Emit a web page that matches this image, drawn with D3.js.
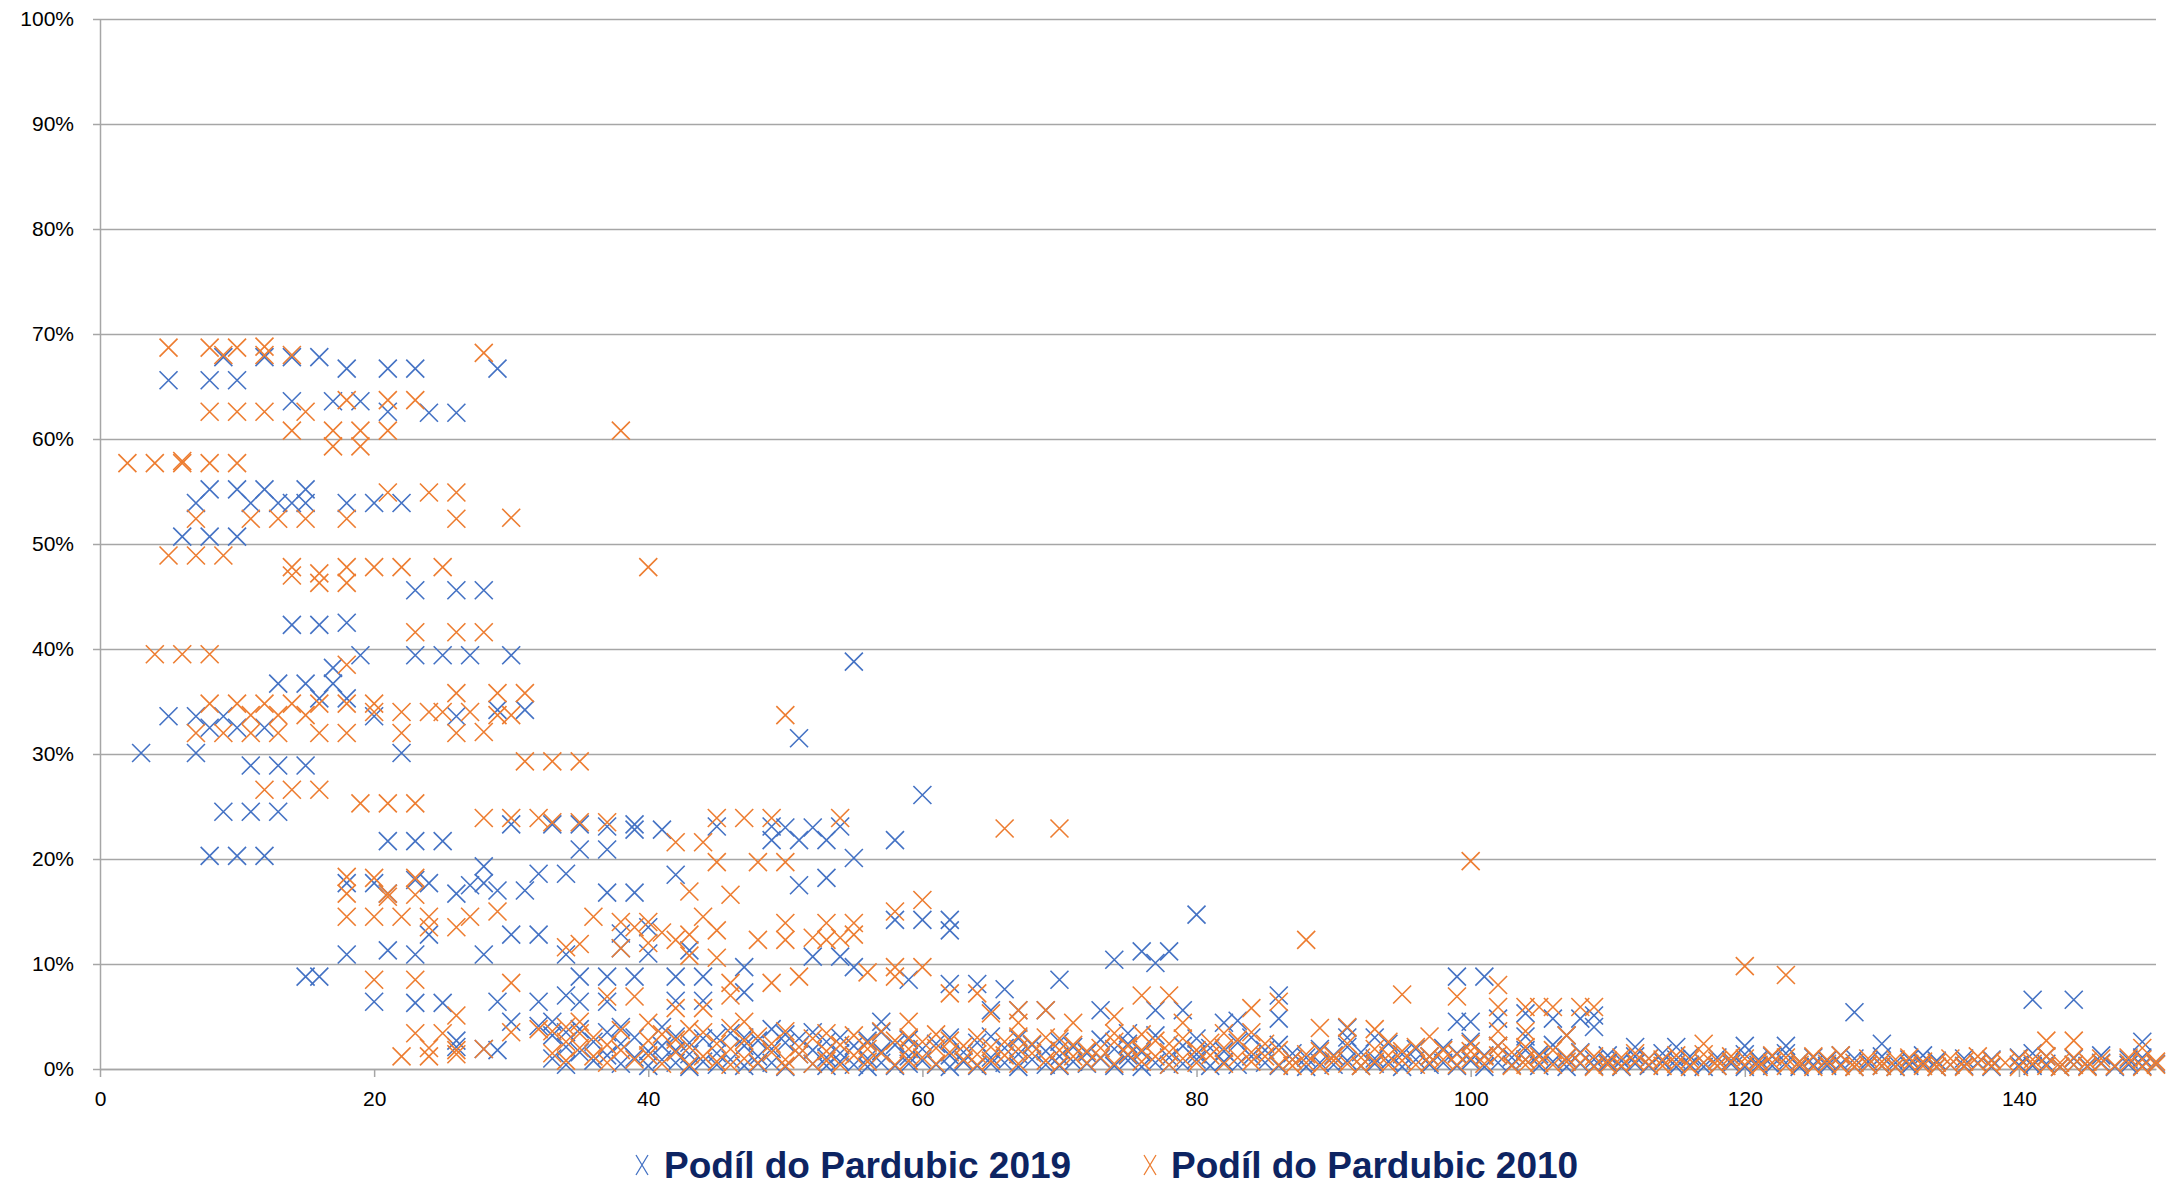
<!DOCTYPE html>
<html>
<head>
<meta charset="utf-8">
<script src="https://cdn.jsdelivr.net/npm/d3@7"></script>
<style>
body { margin: 0; background: #fff; }
</style>
</head>
<body>
<div id="chart"></div>
<script>
// series names
let seriesNames = ['Podíl do Pardubic 2019', 'Podíl do Pardubic 2010'];
let seriesColors = ['#4472C4', '#ED7D31'];

// tick values
let xTickValues = [0, 20, 40, 60, 80, 100, 120, 140];
let yTickValues = [0, 0.1, 0.2, 0.3, 0.4, 0.5, 0.6, 0.7, 0.8, 0.9, 1];

// 2019 - scattered points above the bottom band, [x, share %]
let upper2019 = [
    [3,30.1],[5,65.6],[5,33.6],[6,50.7],[7,53.9],[7,33.6],[7,30.1],
    [8,65.6],[8,55.2],[8,50.7],[8,32.5],[8,20.3],[9,67.8],[9,33.6],[9,24.5],
    [10,65.6],[10,55.2],[10,50.7],[10,32.5],[10,20.3],[11,53.9],[11,28.9],[11,24.5],
    [12,67.8],[12,55.2],[12,32.5],[12,20.3],[13,53.9],[13,36.7],[13,28.9],[13,24.5],
    [14,67.8],[14,63.6],[14,53.9],[14,42.3],[15,55.2],[15,53.9],[15,36.7],[15,28.9],[15,8.8],
    [16,67.8],[16,42.3],[16,35.3],[16,8.8],[17,63.6],[17,38.2],[17,36.7],
    [18,66.7],[18,53.9],[18,42.5],[18,35.3],[18,17.7],[18,10.9],[19,63.6],[19,39.4],
    [20,53.9],[20,33.6],[20,17.7],[20,6.4],[21,66.7],[21,62.6],[21,21.7],[21,16.7],[21,11.3],
    [22,53.9],[22,30.1],[23,66.7],[23,45.6],[23,39.4],[23,21.7],[23,18.0],[23,10.9],[23,6.3],
    [24,62.5],[24,17.7],[24,12.8],[25,39.4],[25,21.7],[25,6.3],
    [26,62.5],[26,45.6],[26,33.6],[26,16.7],[26,2.7],[26,2.1],[27,39.4],[27,17.5],
    [28,45.6],[28,19.3],[28,17.7],[28,10.9],[28,1.9],[29,66.7],[29,34.2],[29,17.0],[29,6.4],[29,1.8],
    [30,39.4],[30,23.3],[30,12.8],[30,4.5],[31,34.2],[31,17.0],[32,18.6],[32,12.8],[32,6.4],[32,4.1],
    [33,23.3],[33,4.5],[34,18.6],[34,10.9],[34,7.0],[34,3.5],[35,23.3],[35,20.9],[35,8.8],[35,6.4],
    [37,23.1],[37,20.9],[37,16.8],[37,8.8],[37,6.4],[37,3.5],[38,12.9],[38,11.5],[38,4.0],
    [39,23.3],[39,22.8],[39,16.8],[39,8.8],[40,13.5],[40,11.0],[41,22.8],[41,4.0],
    [42,18.5],[42,8.8],[42,6.5],[43,11.3],[43,2.5],[44,8.8],[44,6.5],[45,23.1],[45,3.0],
    [47,9.7],[47,7.3],[47,3.0],[49,23.1],[49,21.8],[49,3.8],[50,23.0],
    [51,31.5],[51,21.8],[51,17.5],[52,23.0],[52,10.7],[52,3.5],[53,21.8],[53,18.2],
    [54,23.1],[54,10.7],[55,38.8],[55,20.1],[55,9.7],[57,4.5],[57,3.5],[58,21.8],[58,14.2],
    [59,8.5],[60,26.1],[60,14.2],[62,14.2],[62,13.2],[62,8.1],[64,8.1],[65,5.6],[66,7.6],
    [67,5.6],[69,5.6],[70,8.5],[73,5.6],[74,10.4],[75,3.4],[76,11.2],[77,10.1],[77,5.6],
    [78,11.2],[79,5.6],[80,14.7],[82,4.4],[83,4.6],[86,7.0],[86,4.8],[91,3.9],[91,3.0],
    [93,3.0],[99,8.8],[99,4.5],[100,4.5],[101,8.8],[102,4.8],[104,5.3],[104,3.1],[106,4.8],
    [107,3.2],[108,4.8],[109,5.1],[109,4.0],[112,2.1],[115,2.1],[120,2.2],[123,2.2],
    [128,5.4],[130,2.4],[141,6.6],[141,1.5],[144,6.6],[149,2.6]
];

// 2019 - dense bottom band, [x, [shares %]]
let band2019 = [
    [33,[1.0,3.2]],[34,[0.4,2.1]],[35,[1.6,3.8]],[36,[0.8,2.6]],[37,[1.3]],[38,[0.5,2.4]],
    [39,[1.1,3.0]],[40,[0.3,1.7]],[41,[0.9,2.2]],[42,[0.6,1.8,3.1]],[43,[0.2,1.4]],[44,[0.7,2.9]],
    [45,[1.5,0.4]],[46,[0.9,3.4]],[47,[0.3,2.2]],[48,[1.2,2.7,0.5]],[49,[0.6,1.9]],[50,[0.2,2.5,3.3]],
    [51,[1.4,2.9]],[52,[0.5,1.8]],[53,[1.1,2.6,0.3]],[54,[0.7,1.5,3.0]],[55,[0.4,2.2]],[56,[1.0,2.7,0.2]],
    [57,[0.6,1.7]],[58,[0.3,2.3]],[59,[1.2,0.5,2.8]],[60,[0.8,1.9]],[61,[0.4,2.4]],[62,[1.3,0.2,3.0]],
    [63,[0.7,1.6]],[64,[0.3,2.5]],[65,[1.1,3.1,0.5]],[66,[0.6,2.0]],[67,[0.2,1.4,2.9]],[68,[0.9,2.3]],
    [69,[0.4,1.7]],[70,[1.2,0.3,2.6]],[71,[0.7,2.1]],[72,[0.5,1.5]],[73,[1.0,2.8]],[74,[0.3,1.9]],
    [75,[0.8,2.4,1.3]],[76,[0.2,1.6]],[77,[0.6,3.2]],[78,[1.1,0.4]],[79,[0.5,2.2]],[80,[0.9,1.4,2.9]],
    [81,[0.3,2.0]],[82,[0.7,1.7]],[83,[0.4,2.5]],[84,[1.2,3.0]],[85,[0.6,1.8]],[86,[0.3,2.3]],
    [87,[0.9,1.5]],[88,[0.2,1.1]],[89,[0.6,1.9]],[90,[0.4,1.3]],[91,[0.8,2.1]],[92,[0.3,1.6]],
    [93,[1.0,0.5]],[94,[0.7,2.4]],[95,[0.2,1.4]],[96,[0.9,1.9]],[97,[0.4,1.2]],[98,[0.6,2.0]],
    [99,[0.3,1.5]],[100,[0.8,2.6]],[101,[0.2,1.3]],[102,[0.6,2.2]],[103,[0.4,1.1]],[104,[0.9,1.8]],
    [105,[0.3,1.4]],[106,[0.7,2.3]],[107,[0.2,1.0]],[108,[0.5,1.6]],[109,[0.3,0.9]],[110,[0.6,1.3]],
    [111,[0.2,0.8]],[112,[0.5,1.2]],[113,[0.3,1.0]],[114,[0.7,1.5]],[115,[0.2,0.9]],[116,[0.4,1.2]],
    [117,[0.6,0.2]],[118,[0.3,1.1]],[119,[0.5,0.8]],[120,[0.2,1.4]],[121,[0.4,0.9]],[122,[0.3,1.2]],
    [123,[0.6,1.5]],[124,[0.2,0.7]],[125,[0.4,1.1]],[126,[0.3,0.8]],[127,[0.5,1.3]],[128,[0.2,1.0]],
    [129,[0.4,0.7]],[130,[0.3,1.2]],[131,[0.6,0.2]],[132,[0.3,0.9]],[133,[0.5,1.3]],[134,[0.2,0.8]],
    [135,[0.4]],[136,[0.3,1.0]],[137,[0.6]],[138,[0.2,0.9]],[140,[0.4,1.1]],[141,[0.3]],
    [142,[0.5,1.2]],[143,[0.2]],[144,[0.4,1.0]],[145,[0.3]],[146,[0.6,1.3]],[147,[0.2]],
    [148,[0.4,0.9]],[149,[0.3,1.1]],[150,[0.5]]
];

// 2010 - scattered points above the bottom band, [x, share %]
let upper2010 = [
    [2,57.7],[4,57.7],[4,39.5],[5,68.7],[5,48.9],[6,57.7],[6,57.9],[6,39.5],
    [7,52.4],[7,48.9],[7,32.0],[8,68.7],[8,62.6],[8,57.7],[8,39.5],[8,34.8],
    [9,68.0],[9,48.9],[9,32.0],[10,68.7],[10,62.6],[10,57.7],[10,34.8],
    [11,52.4],[11,33.7],[11,32.0],[12,68.8],[12,68.0],[12,62.6],[12,34.8],[12,26.6],
    [13,52.4],[13,33.7],[13,32.0],[14,68.0],[14,60.8],[14,47.8],[14,47.0],[14,34.8],[14,26.6],
    [15,62.6],[15,52.4],[15,33.7],[16,47.2],[16,46.3],[16,34.8],[16,32.0],[16,26.6],
    [17,60.8],[17,59.3],[18,63.7],[18,52.4],[18,47.8],[18,46.3],[18,38.5],[18,34.8],[18,32.0],
    [18,18.3],[18,16.7],[18,14.5],[19,60.8],[19,59.3],[19,25.3],
    [20,47.8],[20,34.8],[20,34.0],[20,18.2],[20,14.5],[20,8.5],
    [21,63.7],[21,60.8],[21,54.9],[21,25.3],[21,16.7],[21,16.4],
    [22,47.8],[22,34.0],[22,32.0],[22,14.5],[22,1.2],
    [23,63.7],[23,41.6],[23,25.3],[23,18.2],[23,16.6],[23,8.5],[23,3.4],
    [24,54.9],[24,34.0],[24,14.5],[24,13.5],[24,2.0],[24,1.2],[25,47.8],[25,34.0],[25,3.4],
    [26,54.9],[26,52.4],[26,41.6],[26,35.8],[26,32.0],[26,13.5],[26,5.1],[26,1.8],[26,1.4],
    [27,34.0],[27,14.5],[28,68.2],[28,41.6],[28,32.1],[28,23.9],[28,1.9],
    [29,35.8],[29,33.7],[29,15.0],[30,52.5],[30,33.7],[30,23.9],[30,8.2],[30,3.5],
    [31,35.8],[31,29.3],[32,23.9],[32,3.8],[33,29.3],[33,23.5],[34,11.6],[34,4.0],
    [35,29.3],[35,23.5],[35,11.9],[35,4.5],[36,14.5],[37,23.5],[37,6.9],
    [38,60.8],[38,14.0],[38,11.5],[39,13.5],[39,6.9],[40,47.8],[40,14.0],[40,12.0],
    [41,13.0],[42,21.6],[42,12.3],[42,5.8],[43,16.9],[43,12.8],[43,10.8],
    [44,21.6],[44,14.5],[44,5.8],[45,23.9],[45,19.7],[45,13.2],[45,10.6],
    [46,16.6],[46,8.2],[46,7.0],[47,23.9],[48,19.7],[48,12.3],[49,23.9],[49,8.2],
    [50,33.7],[50,19.7],[50,13.9],[50,12.3],[51,8.8],[52,12.5],[53,13.9],[53,12.3],
    [54,23.9],[54,12.5],[55,13.9],[55,12.8],[56,9.2],[58,15.0],[58,9.7],[58,8.8],
    [59,4.5],[60,16.1],[60,9.7],[62,7.2],[64,7.2],[65,5.3],[66,22.9],[67,5.6],[67,4.4],
    [69,5.6],[70,22.9],[71,4.4],[74,5.0],[76,7.0],[78,7.0],[79,4.4],[84,5.8],[86,6.4],
    [88,12.3],[89,3.9],[91,4.0],[93,3.8],[95,7.1],[97,3.1],[99,6.9],[100,19.8],[100,2.4],
    [102,8.0],[102,5.9],[102,3.6],[104,5.9],[104,3.6],[105,5.9],[106,5.9],[107,3.2],
    [108,5.9],[109,5.9],[117,2.4],[120,9.8],[123,8.95],[142,2.7],[144,2.7],[149,2.0]
];

// 2010 - dense bottom band, [x, [shares %]]
let band2010 = [
    [33,[3.6,1.5]],[34,[0.8,2.6]],[35,[2.0,3.4]],[36,[1.2,3.0]],[37,[0.6,2.3]],[38,[1.8,3.7]],
    [39,[0.9]],[40,[2.7,1.3,4.4]],[41,[0.5,3.3]],[42,[1.6,2.8]],[43,[0.4,2.1,3.8]],[44,[1.2,3.5]],
    [45,[0.7,2.4]],[46,[1.9,3.9,0.4]],[47,[1.0,2.7,4.5]],[48,[0.6,3.1]],[49,[1.6,2.4]],[50,[0.9,3.6,0.3]],
    [51,[2.1,1.4]],[52,[0.5,2.9]],[53,[1.7,3.4,0.8]],[54,[2.3,0.4]],[55,[1.3,3.2]],[56,[0.7,2.5,1.9]],
    [57,[1.5,3.6]],[58,[0.4,2.7]],[59,[1.9,3.0,0.8]],[60,[1.1,2.6]],[61,[0.5,2.0,3.3]],[62,[1.6,2.7]],
    [63,[0.9,2.2]],[64,[1.4,3.0,0.4]],[65,[2.1,0.8]],[66,[1.3,2.6]],[67,[0.5,1.9,3.1]],[68,[1.5,2.4]],
    [69,[0.8,3.0]],[70,[1.8,0.4,2.9]],[71,[1.2,2.3]],[72,[0.6,1.7]],[73,[2.0,1.1]],[74,[0.5,2.6,3.4]],
    [75,[1.4,2.2]],[76,[0.7,1.8,3.3]],[77,[1.2,2.7]],[78,[0.4,1.6,2.4]],[79,[1.0,2.9]],[80,[0.6,1.8]],
    [81,[1.3,2.5]],[82,[0.5,2.0,3.4]],[83,[1.1,2.8]],[84,[0.7,1.6,3.5]],[85,[1.2,2.4]],[86,[0.4,1.8]],
    [87,[0.9,0.3]],[88,[0.6,1.4]],[89,[0.3,1.7]],[90,[0.8,1.2]],[91,[0.5,2.4]],[92,[1.1,0.3]],
    [93,[0.7,1.9]],[94,[1.3,2.6,0.4]],[95,[0.8,1.7]],[96,[0.4,2.1]],[97,[1.2,0.6]],[98,[0.9,1.8]],
    [99,[0.4,1.4]],[100,[1.0,1.7]],[101,[0.5,1.2]],[102,[1.3,2.2]],[103,[0.3,1.6]],[104,[0.9,2.1,0.4]],
    [105,[1.2,0.6]],[106,[0.4,1.8]],[107,[1.1,0.7]],[108,[0.6,1.5]],[109,[0.2,1.2]],[110,[0.8,0.4]],
    [111,[0.3,1.1]],[112,[0.7,1.5]],[113,[0.4,1.0]],[114,[0.9,0.3]],[115,[0.5,1.3]],[116,[0.2,0.9]],
    [117,[0.6,1.4]],[118,[0.3,0.8]],[119,[0.7,1.2]],[120,[0.4,1.0]],[121,[0.2,0.7]],[122,[0.6,1.3]],
    [123,[0.3,1.1]],[124,[0.7,0.4]],[125,[0.2,1.2]],[126,[0.5,0.9]],[127,[0.3,1.3]],[128,[0.6,0.2]],
    [129,[0.4,1.0]],[130,[0.7,0.3]],[131,[0.2,0.9]],[132,[0.5,1.1]],[133,[0.3,0.7]],[134,[0.6,0.2]],
    [135,[0.4,1.0]],[136,[0.2,0.7]],[137,[0.5,1.2]],[138,[0.3,0.8]],[139,[0.6]],[140,[0.2,1.0]],
    [141,[0.5,0.9]],[142,[0.3,1.2]],[143,[0.6,0.2]],[144,[0.4,1.1]],[145,[0.2,0.7]],[146,[0.5,1.0]],
    [147,[0.3]],[148,[0.6,1.1]],[149,[0.2,0.9]],[150,[0.4,0.7]]
];

// flatten the band lists and join with the scattered points
function buildSeries(upper, band) {
    let out = upper.map(function(p) { return {x: p[0], y: p[1] / 100}; });
    band.forEach(function(col) {
        col[1].forEach(function(v) { out.push({x: col[0], y: v / 100}); });
    });
    return out;
}
let data2019 = buildSeries(upper2019, band2019);
let data2010 = buildSeries(upper2010, band2010);

let totalWidth = 2166;
let totalHeight = 1187;
let margin = {top: 19, right: 10, bottom: 118, left: 100};
let innerWidth = totalWidth - margin.left - margin.right;
let innerHeight = totalHeight - margin.top - margin.bottom;

let x = d3.scaleLinear().domain([0, 150]).range([0, innerWidth]);
let y = d3.scaleLinear().domain([0, 1]).range([innerHeight, 0]);

let svg = d3.select("#chart").append("svg")
    .attr("width", totalWidth)
    .attr("height", totalHeight)
    .style("font-family", "Lato, 'Liberation Sans', sans-serif");

let g = svg.append("g")
    .attr("transform", "translate(" + margin.left + "," + margin.top + ")");

let gridColor = "#a6a6a6";

// horizontal gridlines
g.append("g")
    .call(d3.axisLeft(y).tickValues(yTickValues).tickSize(-innerWidth).tickFormat(""))
    .call(function(s) { s.select(".domain").remove(); })
    .selectAll("line")
    .attr("stroke", gridColor)
    .attr("stroke-width", 1.5);

// y axis with labels
let yAxis = g.append("g")
    .call(d3.axisLeft(y).tickValues(yTickValues).tickSize(7).tickSizeOuter(0).tickPadding(19)
        .tickFormat(d3.format(".0%")));
yAxis.select(".domain").attr("stroke", gridColor).attr("stroke-width", 1.5);
yAxis.selectAll("line").attr("stroke", gridColor).attr("stroke-width", 1.5);
yAxis.selectAll("text").style("font-size", "21px").attr("fill", "#000");

// x axis
let xAxis = g.append("g")
    .attr("transform", "translate(0," + innerHeight + ")")
    .call(d3.axisBottom(x).tickValues(xTickValues).tickSize(8).tickSizeOuter(0).tickPadding(14));
xAxis.select(".domain").attr("stroke", gridColor).attr("stroke-width", 1.5);
xAxis.selectAll("line").attr("stroke", gridColor).attr("stroke-width", 1.5);
xAxis.selectAll("text").style("font-size", "21px").attr("fill", "#000");

// x-shaped markers
let cross = "M-9,-9L9,9M-9,9L9,-9";

[data2019, data2010].forEach(function(series, i) {
    g.append("g")
        .selectAll("path")
        .data(series)
        .enter().append("path")
        .attr("d", cross)
        .attr("transform", function(d) { return "translate(" + x(d.x) + "," + y(d.y) + ")"; })
        .attr("fill", "none")
        .attr("stroke", seriesColors[i])
        .attr("stroke-width", 1.6);
});

// legend
let legendItems = [{mx: 642, tx: 664}, {mx: 1150, tx: 1171}];
legendItems.forEach(function(item, i) {
    svg.append("path")
        .attr("d", "M-6,-10L6,10M-6,10L6,-10")
        .attr("transform", "translate(" + item.mx + ",1165)")
        .attr("fill", "none")
        .attr("stroke", seriesColors[i])
        .attr("stroke-width", 1.3);
    svg.append("text")
        .attr("x", item.tx)
        .attr("y", 1178)
        .style("font-family", "'Liberation Sans', Arial, sans-serif")
        .style("font-weight", "bold")
        .style("font-size", "37px")
        .attr("fill", "#0d2462")
        .text(seriesNames[i]);
});
</script>
</body>
</html>
